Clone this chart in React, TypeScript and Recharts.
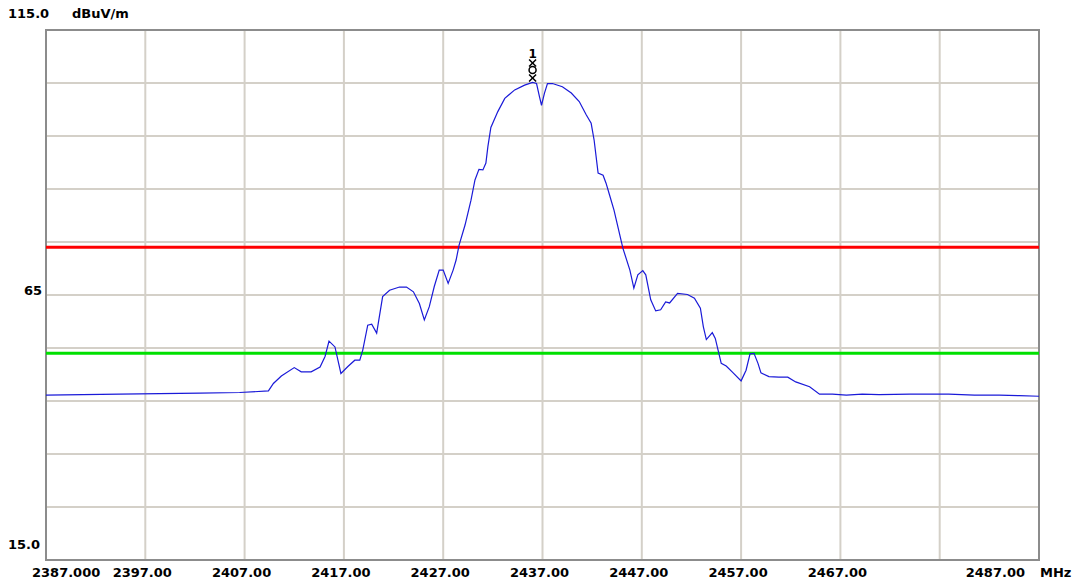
import { LineChart, Line, XAxis, YAxis, CartesianGrid, ReferenceLine, ReferenceArea, ReferenceDot } from "recharts";

// spectrum trace (MHz / dBuV/m)
const FREQ = [
  2387, 2394.4, 2402.5, 2406.5, 2409.4, 2409.9, 2410.7, 2412.0, 2412.7, 2413.7,
  2414.6, 2415.1, 2415.5, 2416.1, 2416.7, 2417.4, 2418.1, 2418.6, 2418.9, 2419.4,
  2419.8, 2420.3, 2420.9, 2421.6, 2422.6, 2423.3, 2424.0, 2424.6, 2425.1, 2425.6,
  2426.1, 2426.6, 2427.0, 2427.5, 2428.0, 2428.3, 2428.6, 2429.2, 2429.8, 2430.2,
  2430.6, 2431.0, 2431.3, 2431.5, 2431.8, 2432.5, 2433.2, 2434.2, 2435.2, 2436.0,
  2436.4, 2436.7, 2436.9, 2437.2, 2437.5, 2438.0, 2439.0, 2439.9, 2440.7, 2441.4,
  2441.9, 2442.2, 2442.6, 2443.1, 2443.4, 2443.7, 2444.2, 2444.9, 2445.1, 2445.8,
  2446.2, 2446.6, 2447.1, 2447.4, 2447.9, 2448.4, 2448.9, 2449.4, 2449.8, 2450.6,
  2451.6, 2452.3, 2452.9, 2453.2, 2453.5, 2454.1, 2454.4, 2455.0, 2455.5, 2456.1,
  2457.0, 2457.5, 2457.9, 2458.3, 2458.7, 2459.0, 2459.8, 2460.8, 2461.7, 2462.5,
  2463.9, 2464.9, 2466.2, 2467.6, 2469.2, 2470.9, 2474.0, 2477.9, 2480.5, 2483.0,
  2485.0, 2487,
];
const LEVEL = [
  46.1, 46.3, 46.5, 46.6, 46.9, 48.3, 49.7, 51.3, 50.5, 50.5,
  51.4, 53.4, 56.3, 55.2, 50.2, 51.5, 52.7, 52.7, 54.6, 59.3,
  59.5, 57.8, 64.7, 65.9, 66.5, 66.5, 65.6, 63.4, 60.3, 62.8,
  66.6, 69.7, 69.7, 67.2, 69.7, 71.6, 74.4, 78.2, 82.9, 86.7,
  88.7, 88.6, 89.9, 93.0, 96.6, 99.6, 102.1, 103.7, 104.6, 105.1,
  104.9, 102.4, 100.8, 103.1, 104.9, 104.9, 104.3, 103.1, 101.5, 99.0,
  97.4, 94.2, 88.0, 87.6, 86.1, 84.2, 81.0, 75.4, 73.8, 69.7,
  66.3, 68.8, 69.6, 68.8, 64.1, 62.0, 62.2, 63.7, 63.5, 65.3,
  65.1, 64.4, 62.5, 59.0, 56.6, 57.9, 56.8, 52.1, 51.6, 50.5,
  48.8, 50.8, 53.9, 54.0, 52.1, 50.3, 49.6, 49.5, 49.5, 48.6,
  47.7, 46.3, 46.3, 46.1, 46.3, 46.2, 46.3, 46.3, 46.1, 46.1,
  46.0, 45.9,
];

const X_TICKS = [2387, 2397, 2407, 2417, 2427, 2437, 2447, 2457, 2467, 2477, 2487];
const Y_TICKS = [15, 25, 35, 45, 55, 65, 75, 85, 95, 105, 115];
const LIMIT_PEAK = 74;
const LIMIT_AVG = 54;
const MARKER = { f: 2436.0, v: 105.1, label: "1" };

const data = FREQ.map((f, i) => ({ f, v: LEVEL[i] }));

const FONT = "DejaVu Sans, Verdana, sans-serif";

const XTick = (props: any) => {
  const { x, payload } = props;
  const val = payload.value;
  if (val === 2477) return null;
  if (val === 2387)
    return (
      <text x={x - 14} y={577} textAnchor="start" fontSize={13} fontWeight="bold" fontFamily={FONT} fill="#000">
        2387.000
      </text>
    );
  if (val === 2487)
    return (
      <g>
        <text x={x - 14} y={577} textAnchor="end" fontSize={13} fontWeight="bold" fontFamily={FONT} fill="#000">
          2487.00
        </text>
        <text x={x + 1} y={577} textAnchor="start" fontSize={13} fontWeight="bold" fontFamily={FONT} fill="#000">
          MHz
        </text>
      </g>
    );
  return (
    <text x={x - 3} y={577} textAnchor="middle" fontSize={13} fontWeight="bold" fontFamily={FONT} fill="#000">
      {val.toFixed(2)}
    </text>
  );
};

const YTick = (props: any) => {
  const { y, payload } = props;
  const val = payload.value;
  if (val === 115)
    return (
      <g>
        <text x={8} y={y - 12} textAnchor="start" fontSize={13} fontWeight="bold" fontFamily={FONT} fill="#000">
          115.0
        </text>
        <text x={72} y={y - 12} textAnchor="start" fontSize={13} fontWeight="bold" fontFamily={FONT} fill="#000">
          dBuV/m
        </text>
      </g>
    );
  if (val === 65)
    return (
      <text x={42} y={y} textAnchor="end" fontSize={13} fontWeight="bold" fontFamily={FONT} fill="#000">
        65
      </text>
    );
  if (val === 15)
    return (
      <text x={8} y={y - 11} textAnchor="start" fontSize={13} fontWeight="bold" fontFamily={FONT} fill="#000">
        15.0
      </text>
    );
  return null;
};

const MarkerShape = (props: any) => {
  const { cx, cy } = props;
  return (
    <g stroke="#000" strokeWidth={1.5} fill="none">
      <line x1={cx - 3.5} y1={cy - 8} x2={cx + 3.5} y2={cy - 1} />
      <line x1={cx + 3.5} y1={cy - 8} x2={cx - 3.5} y2={cy - 1} />
      <circle cx={cx} cy={cy - 12.5} r={3.5} />
      <line x1={cx - 3.5} y1={cy - 23} x2={cx + 3.5} y2={cy - 16} />
      <line x1={cx + 3.5} y1={cy - 23} x2={cx - 3.5} y2={cy - 16} />
      <text x={cx} y={cy - 24} textAnchor="middle" fontSize={12} fontWeight="bold" fontFamily={FONT} fill="#000" stroke="none">
        {MARKER.label}
      </text>
    </g>
  );
};

export default function App() {
  return (
    <div style={{ position: "absolute", left: 0, top: 0, background: "#fff" }}>
      <LineChart width={1080} height={587} data={data} margin={{ top: 30, right: 41, left: 0, bottom: 0 }}>
        <CartesianGrid stroke="#d4d0c8" strokeWidth={2} />
        <XAxis
          dataKey="f"
          type="number"
          domain={[2387, 2487]}
          ticks={X_TICKS}
          tick={<XTick />}
          tickLine={false}
          axisLine={false}
          height={27}
          interval={0}
          allowDataOverflow
        />
        <YAxis
          type="number"
          domain={[15, 115]}
          ticks={Y_TICKS}
          tick={<YTick />}
          tickLine={false}
          axisLine={false}
          width={46}
          interval={0}
          allowDataOverflow
        />
        <ReferenceArea x1={2387} x2={2487} y1={15} y2={115} fill="none" stroke="#8c8c8c" strokeWidth={2} ifOverflow="visible" />
        <ReferenceLine y={LIMIT_PEAK} stroke="#ff0000" strokeWidth={3} />
        <ReferenceLine y={LIMIT_AVG} stroke="#00e000" strokeWidth={3} />
        <Line dataKey="v" stroke="#1a1ad8" strokeWidth={1.2} dot={false} isAnimationActive={false} />
        <ReferenceDot x={MARKER.f} y={MARKER.v} shape={<MarkerShape />} ifOverflow="visible" />
      </LineChart>
    </div>
  );
}
